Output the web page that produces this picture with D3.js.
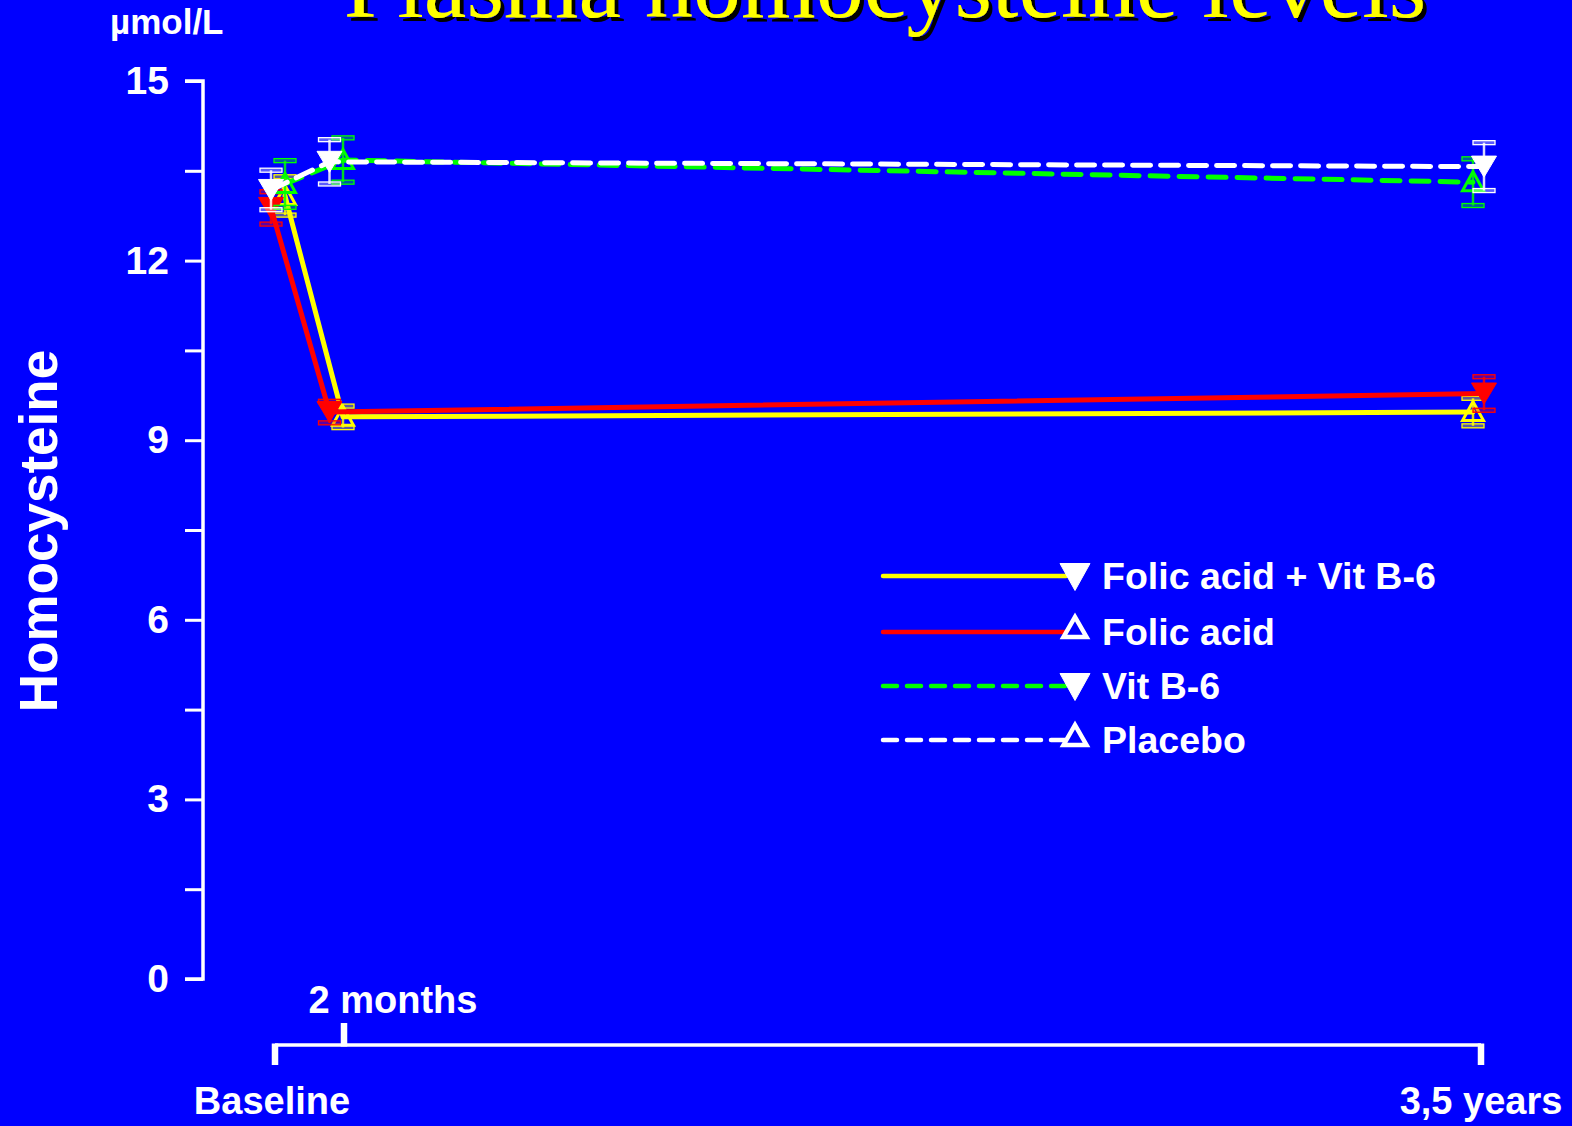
<!DOCTYPE html>
<html>
<head>
<meta charset="utf-8">
<script src="https://cdn.jsdelivr.net/npm/d3@7"></script>
<style>
  html, body { margin: 0; padding: 0; background: #0000ff; overflow: hidden; }
  svg { display: block; }
</style>
</head>
<body>
<script>
// ---------- data ----------
const timepoints = [0, 2, 42];               // months
const timeLabels = ["Baseline", "2 months", "3,5 years"];
const seriesNames = ["Folic acid + Vit B-6", "Folic acid", "Vit B-6", "Placebo"];

const folicB6Mean = [13.08, 9.39, 9.47];
const folicB6Err  = [0.32, 0.18, 0.23];
const folicMean   = [12.88, 9.47, 9.78];
const folicErr    = [0.27, 0.18, 0.28];
const b6Mean      = [13.28, 13.68, 13.31];
const b6Err       = [0.39, 0.37, 0.39];
const placeboMean = [13.18, 13.65, 13.57];
const placeboErr  = [0.33, 0.37, 0.40];

const yTickValues = [0, 1.5, 3, 4.5, 6, 7.5, 9, 10.5, 12, 13.5, 15];
const yLabelValues = [0, 3, 6, 9, 12, 15];

const title = "Plasma homocysteine levels";
const unitLabel = "\u00b5mol/L";
const yTitle = "Homocysteine";

// ---------- styles ----------
const W = 1572, H = 1126;
const BG = "#0000ff";
const FONT = "'Liberation Sans', Arial, Helvetica, sans-serif";
const series = [
  { name: seriesNames[0], mean: folicB6Mean, err: folicB6Err, color: "#ffff00", dash: null, marker: "up", legendMarker: "down" },
  { name: seriesNames[1], mean: folicMean,   err: folicErr,   color: "#ff0000", dash: null, marker: "down", legendMarker: "up" },
  { name: seriesNames[2], mean: b6Mean,      err: b6Err,      color: "#00ff00", dash: "18,11", marker: "up", legendMarker: "down" },
  { name: seriesNames[3], mean: placeboMean, err: placeboErr, color: "#ffffff", dash: "18,10", marker: "down", legendMarker: "up" }
];
// horizontal dodge (px) of the markers at each time point
const dodge = { down: [-4, -14.5, 3], up: [10, -1, -8] };

const svg = d3.select("body").append("svg").attr("width", W).attr("height", H);
const defs = svg.append("defs");
const f = defs.append("filter").attr("id", "shadow").attr("x", "-5%").attr("y", "-50%").attr("width", "110%").attr("height", "200%");
f.append("feDropShadow").attr("dx", 4).attr("dy", 4).attr("stdDeviation", 0)
  .attr("flood-color", "#000").attr("flood-opacity", 1);
svg.append("rect").attr("width", W).attr("height", H).attr("fill", BG);

const x = d3.scaleLinear().domain(timepoints).range([275, 344, 1481]);
const y = d3.scaleLinear().domain([0, 15]).range([979, 81]);

// ---------- title ----------
svg.append("text").attr("x", 885).attr("y", 17)
  .attr("font-family", "'Liberation Serif', 'Times New Roman', serif")
  .attr("font-size", 96).attr("text-anchor", "middle")
  .attr("fill", "#ffff00").attr("filter", "url(#shadow)").text(title);

// ---------- y axis ----------
const yAxis = d3.axisLeft(y).tickValues(yTickValues).tickSize(18).tickPadding(16)
  .tickFormat(d => yLabelValues.includes(d) ? d3.format("d")(d) : "");
const yg = svg.append("g").attr("transform", "translate(203,0)").call(yAxis);
yg.select(".domain").attr("d", `M-18,${y(15)}H0V${y(0)}H-18`).attr("stroke", "#fff").attr("stroke-width", 3.5).attr("fill", "none");
yg.selectAll(".tick line").attr("stroke", "#fff").attr("stroke-width", 3);
yg.selectAll(".tick text").attr("fill", "#fff").attr("font-family", FONT).attr("font-weight", "bold").attr("font-size", 39);

svg.append("text").attr("x", 110).attr("y", 34).attr("fill", "#fff")
  .attr("font-family", FONT).attr("font-weight", "bold").attr("font-size", 35).text(unitLabel);

svg.append("text").attr("transform", "translate(57,531) rotate(-90)")
  .attr("text-anchor", "middle").attr("fill", "#fff")
  .attr("font-family", FONT).attr("font-weight", "bold").attr("font-size", 53).text(yTitle);

// ---------- x axis ----------
const xg = svg.append("g");
const axisY = 1045;
xg.append("line").attr("x1", x(timepoints[0])).attr("x2", x(timepoints[2]))
  .attr("y1", axisY).attr("y2", axisY).attr("stroke", "#fff").attr("stroke-width", 3.5);
[0, 2].forEach(i => {
  xg.append("line").attr("x1", x(timepoints[i])).attr("x2", x(timepoints[i]))
    .attr("y1", axisY - 1.5).attr("y2", axisY + 20).attr("stroke", "#fff").attr("stroke-width", 6.5);
});
xg.append("line").attr("x1", x(timepoints[1])).attr("x2", x(timepoints[1]))
  .attr("y1", axisY + 1.5).attr("y2", axisY - 22).attr("stroke", "#fff").attr("stroke-width", 6.5);
const xlab = xg.append("g").attr("fill", "#fff").attr("font-family", FONT)
  .attr("font-weight", "bold").attr("font-size", 38).attr("text-anchor", "middle");
xlab.append("text").attr("x", x(timepoints[0]) - 3).attr("y", 1114).text(timeLabels[0]);
xlab.append("text").attr("x", x(timepoints[1]) + 49).attr("y", 1013).text(timeLabels[1]);
xlab.append("text").attr("x", x(timepoints[2])).attr("y", 1114).text(timeLabels[2]);

// ---------- markers ----------
function triPath(type, cx, cy, w, h) {
  if (type === "down") return `M${cx - w / 2},${cy - h / 2}L${cx + w / 2},${cy - h / 2}L${cx},${cy + h / 2}Z`;
  return `M${cx - w / 2},${cy + h / 2}L${cx + w / 2},${cy + h / 2}L${cx},${cy - h / 2}Z`;
}

const plot = svg.append("g");
const line = d3.line().x(d => d.px).y(d => y(d.v));

series.forEach(s => {
  const pts = timepoints.map((t, i) => ({ px: x(t) + dodge[s.marker][i], v: s.mean[i], e: s.err[i] }));
  const g = plot.append("g");
  const path = g.append("path").datum(pts).attr("d", line).attr("fill", "none")
    .attr("stroke", s.color).attr("stroke-width", 5).attr("stroke-linecap", "round").attr("stroke-linejoin", "round");
  if (s.dash) path.attr("stroke-dasharray", s.dash);

  // error bars
  const eb = g.selectAll(".eb").data(pts).enter().append("g");
  eb.append("line").attr("x1", d => d.px).attr("x2", d => d.px)
    .attr("y1", d => y(d.v - d.e)).attr("y2", d => y(d.v + d.e))
    .attr("stroke", s.color).attr("stroke-width", 2.5).attr("opacity", 0.85);
  [-1, 1].forEach(sign => {
    eb.append("rect").attr("x", d => d.px - 11).attr("y", d => y(d.v + sign * d.e) - 2)
      .attr("width", 22).attr("height", 4)
      .attr("fill", s.color).attr("fill-opacity", 0.35)
      .attr("stroke", s.color).attr("stroke-width", 1.3);
  });

  // markers
  g.selectAll(".mk").data(pts).enter().append("path")
    .attr("d", d => s.marker === "down" ? triPath("down", d.px, y(d.v), 25, 21) : triPath("up", d.px, y(d.v) - 1, 21, 19))
    .attr("fill", s.marker === "down" ? s.color : "none")
    .attr("stroke", s.color).attr("stroke-width", s.marker === "down" ? 1 : 3)
    .attr("stroke-linejoin", "miter");
});

// ---------- legend ----------
const legendRows = [576, 632, 686, 740];
const lg = svg.append("g");
series.forEach((s, i) => {
  const ly = legendRows[i];
  const l = lg.append("line").attr("x1", 883).attr("x2", 1066).attr("y1", ly).attr("y2", ly)
    .attr("stroke", s.color).attr("stroke-width", 4.5).attr("stroke-linecap", "round");
  if (s.dash) l.attr("stroke-dasharray", "14,10");
  if (s.legendMarker === "down") {
    lg.append("path").attr("d", triPath("down", 1075, ly + 1, 30, 27)).attr("fill", "#fff").attr("stroke", "#fff").attr("stroke-width", 1);
  } else {
    lg.append("path").attr("d", triPath("up", 1075, ly - 5, 23, 20)).attr("fill", "none").attr("stroke", "#fff").attr("stroke-width", 4.5);
  }
  lg.append("text").attr("x", 1102).attr("y", ly + 13).attr("fill", "#fff")
    .attr("font-family", FONT).attr("font-weight", "bold").attr("font-size", 37.5).text(s.name);
});
</script>
</body>
</html>
